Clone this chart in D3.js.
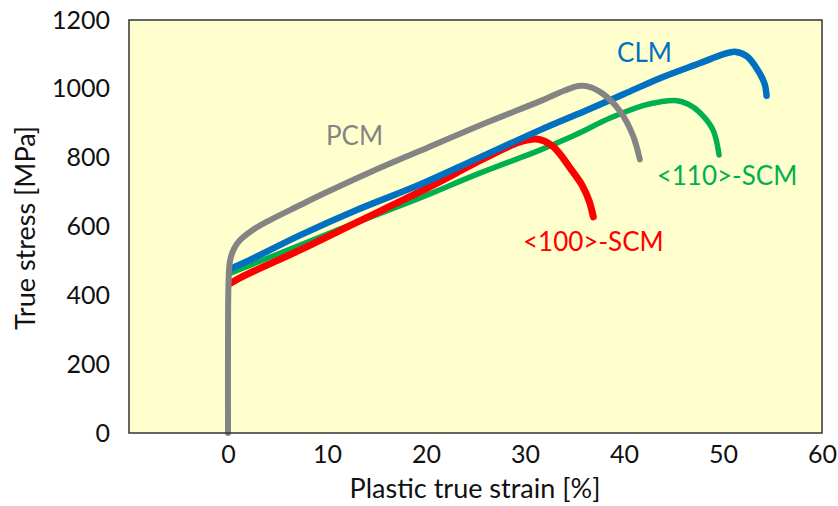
<!DOCTYPE html>
<html lang="en">
<head>
<meta charset="UTF-8" />
<title>True stress vs plastic true strain</title>
<script src="https://cdn.jsdelivr.net/npm/d3@7"></script>
<style>
  body { margin: 0; background: #fff; }
  text { font-family: Lato, "Open Sans", sans-serif; }
</style>
</head>
<body>
<div id="chart"></div>
<script>
// values (strain in %, stress in MPa)
const xTicks = [0, 10, 20, 30, 40, 50, 60];
const yTicks = [0, 200, 400, 600, 800, 1000, 1200];

const pcmStrain = [0, 0, 0.05, 0.2, 0.6, 1.2, 2.5, 4.2, 7, 10, 14.3, 19.4, 26.2, 31.6, 34, 35.4, 36.5, 37.9, 39.6, 40.9, 41.6];
const pcmStress = [0, 250, 430, 500, 535, 560, 590, 618, 658, 700, 757, 820, 903, 965, 995, 1008, 1006, 985, 935, 865, 795];

const clmStrain = [0.3, 2, 7.3, 13, 19.4, 25, 31.5, 36, 40, 44, 47.7, 50, 51.2, 52.4, 53.5, 54.2, 54.4];
const clmStress = [478, 500, 575, 648, 722, 795, 880, 935, 985, 1035, 1075, 1100, 1108, 1095, 1055, 1015, 980];

const scm110Strain = [0.3, 2, 7.3, 13, 19.4, 25, 31.5, 35, 38.6, 42, 43.6, 45.2, 46.5, 47.7, 49, 49.6];
const scm110Stress = [465, 485, 546, 612, 683, 750, 822, 865, 915, 952, 962, 966, 955, 930, 880, 808];

const scm100Strain = [0.3, 1.5, 7.3, 13, 19.4, 26.2, 29.5, 31.2, 32.8, 34.6, 35.8, 36.5, 36.9];
const scm100Stress = [436, 455, 532, 612, 701, 802, 846, 854, 833, 768, 718, 672, 628];

const seriesNames = ["PCM", "CLM", "<110>-SCM", "<100>-SCM"];
const seriesColors = ["#848484", "#0070C0", "#00B050", "#FF0000"];

const w = 838, h = 506;
const padLeft = 129, padRight = 822, padTop = 20, padBottom = 433;

const svg = d3.select("#chart").append("svg")
    .attr("width", w)
    .attr("height", h);

const xScale = d3.scaleLinear([-10, 60], [padLeft, padRight]);
const yScale = d3.scaleLinear([0, 1200], [padBottom, padTop]);

// plot background
svg.append("rect")
    .attr("x", padLeft).attr("y", padTop)
    .attr("width", padRight - padLeft).attr("height", padBottom - padTop)
    .attr("fill", "#FFFFCD");

// axes
const xAxis = svg.append("g")
    .attr("transform", "translate(0," + padBottom + ")")
    .call(d3.axisBottom(xScale).tickValues(xTicks).tickSize(0).tickPadding(12));
const yAxis = svg.append("g")
    .attr("transform", "translate(" + padLeft + ",0)")
    .call(d3.axisLeft(yScale).tickValues(yTicks).tickFormat(d3.format("d")).tickSize(0).tickPadding(19));

[xAxis, yAxis].forEach(g => {
    g.select(".domain").remove();
    g.selectAll("text")
      .style("font-family", "Lato, 'Open Sans', sans-serif")
      .style("font-size", "25px")
      .attr("fill", "#111");
});

// curves
const series = [
    {strain: pcmStrain, stress: pcmStress, width: 6},
    {strain: clmStrain, stress: clmStress, width: 6.5},
    {strain: scm110Strain, stress: scm110Stress, width: 5.5},
    {strain: scm100Strain, stress: scm100Stress, width: 7}
];

const line = d3.line()
    .x(d => xScale(d[0]))
    .y(d => yScale(d[1]))
    .curve(d3.curveCatmullRom.alpha(0.5));

// draw order: green, red, blue, gray on top
[2, 3, 1, 0].forEach(i => {
    const s = series[i];
    svg.append("path")
      .datum(s.strain.map((v, j) => [v, s.stress[j]]))
      .attr("d", line)
      .attr("fill", "none")
      .attr("stroke", seriesColors[i])
      .attr("stroke-width", s.width)
      .attr("stroke-linecap", "round")
      .attr("stroke-linejoin", "round");
});

// frame
svg.append("rect")
    .attr("x", padLeft).attr("y", padTop)
    .attr("width", padRight - padLeft).attr("height", padBottom - padTop)
    .attr("fill", "none")
    .attr("stroke", "#333")
    .attr("stroke-width", 1.5);

// series labels
const labelPos = [[9.9, 837], [39.3, 1078], [43.3, 720], [29.8, 529]];
seriesNames.forEach((name, i) => {
    svg.append("text")
      .attr("x", xScale(labelPos[i][0]))
      .attr("y", yScale(labelPos[i][1]))
      .attr("fill", seriesColors[i])
      .style("font-size", "26px")
      .text(name);
});

// axis titles
svg.append("text")
    .attr("x", 475).attr("y", 498)
    .attr("text-anchor", "middle")
    .attr("fill", "#111")
    .style("font-size", "27px")
    .text("Plastic true strain [%]");

svg.append("text")
    .attr("transform", "translate(35,228) rotate(-90)")
    .attr("text-anchor", "middle")
    .attr("fill", "#111")
    .style("font-size", "27px")
    .text("True stress [MPa]");
</script>
</body>
</html>
